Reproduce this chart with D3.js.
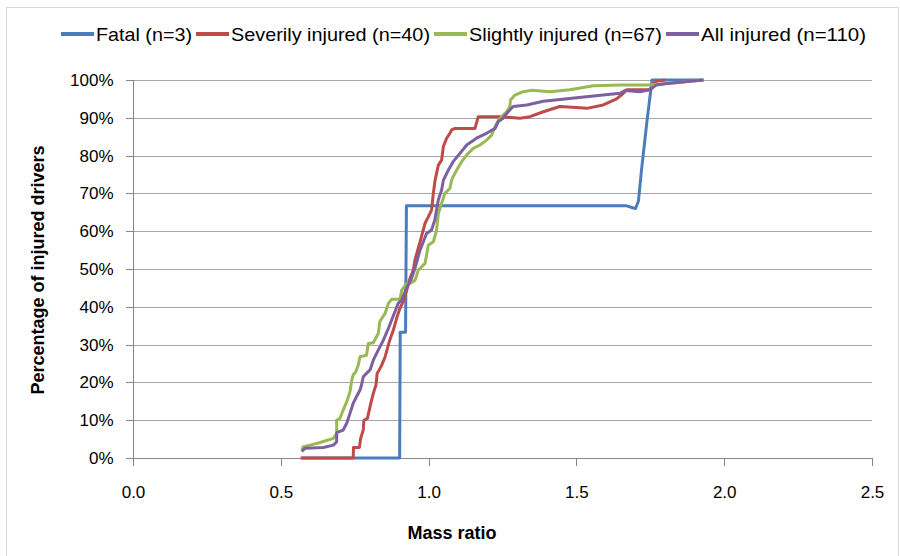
<!DOCTYPE html>
<meta charset='utf-8'>
<style>
	body { margin: 0; background: #fff; }
	svg { display: block; font-family: 'Liberation Sans', 'DejaVu Sans', sans-serif; }
	.grid line { stroke: #a6a6a6; stroke-width: 1px; }
	.axis path, .axis line { stroke: #868686; shape-rendering: crispEdges; }
	.axis text { font-size: 17px; fill: #000; }
	.series { fill: none; stroke-width: 3px; stroke-linejoin: round; }
</style>
<body>
<script src='https://cdn.jsdelivr.net/npm/d3@7/dist/d3.min.js'></script>
<script type='text/javascript'>
	var seriesNames = ['Fatal (n=3)', 'Severily injured (n=40)', 'Slightly injured (n=67)', 'All injured (n=110)'];
	var seriesColors = ['#4a7ebb', '#be4b48', '#98b954', '#7d60a0'];
	var legendWidths = [96, 199, 193, 165];
	var xTicks = [0, 0.5, 1.0, 1.5, 2.0, 2.5];
	var yTicks = [0, 10, 20, 30, 40, 50, 60, 70, 80, 90, 100];

	// [mass ratio, percent]
	var fatal = [[0.57, 0], [0.902, 0], [0.904, 33.3], [0.922, 33.3], [0.925, 66.7], [1.67, 66.7],
		[1.69, 66.2], [1.70, 66.0], [1.71, 68], [1.72, 76], [1.74, 90], [1.756, 100], [1.93, 100]];
	var severe = [[0.567, 0], [0.745, 0], [0.746, 2.8], [0.766, 2.8], [0.770, 5.2], [0.779, 7.4], [0.781, 10],
		[0.793, 10.5], [0.802, 13.6], [0.807, 15.3], [0.813, 17.1], [0.822, 19.3], [0.826, 22.4], [0.833, 23.3],
		[0.841, 24.5], [0.853, 26.8], [0.867, 30.8], [0.881, 33.9], [0.892, 37], [0.903, 39.6], [0.914, 41.4],
		[0.926, 44.4], [0.937, 47.5], [0.948, 49.7], [0.954, 52.4], [0.971, 57.2], [0.988, 62.1], [0.999, 63.8],
		[1.010, 65.6], [1.016, 70], [1.022, 73.5], [1.027, 75.3], [1.033, 77.5], [1.044, 78.8], [1.050, 82.4],
		[1.061, 84.6], [1.072, 85.9], [1.078, 86.8], [1.089, 87.2], [1.157, 87.2], [1.168, 90.3], [1.242, 90.3],
		[1.309, 89.9], [1.343, 90.3], [1.388, 91.6], [1.444, 93], [1.50, 92.7], [1.535, 92.5], [1.591, 93.4],
		[1.636, 95], [1.659, 96.5], [1.670, 97.4], [1.749, 97.5], [1.766, 99.6], [1.80, 100]];
	var slight = [[0.571, 2.1], [0.576, 3], [0.599, 3.4], [0.633, 4.1], [0.678, 5.2], [0.689, 6.5], [0.689, 10],
		[0.700, 10.5], [0.711, 12.7], [0.723, 14.9], [0.734, 17.5], [0.740, 20.6], [0.745, 22], [0.754, 22.8],
		[0.762, 24.6], [0.768, 26.8], [0.790, 27.2], [0.796, 30.3], [0.813, 30.5], [0.830, 33], [0.835, 36.1],
		[0.853, 38.3], [0.864, 40.9], [0.875, 42], [0.903, 42], [0.909, 44.4], [0.926, 46.2], [0.937, 46.2],
		[0.954, 47], [0.965, 49.7], [0.988, 51.5], [0.999, 56.3], [1.016, 57.2], [1.027, 60.3], [1.033, 64.7],
		[1.044, 67.4], [1.055, 70], [1.072, 71.3], [1.078, 73.5], [1.083, 74.4], [1.095, 76.2], [1.112, 78.4],
		[1.129, 80.2], [1.151, 81.9], [1.174, 82.8], [1.196, 84.1], [1.213, 85.4], [1.225, 87.7], [1.236, 89.4],
		[1.247, 90.3], [1.264, 91.6], [1.275, 93], [1.277, 94.7], [1.292, 96], [1.320, 96.9], [1.35, 97.3],
		[1.411, 96.9], [1.478, 97.4], [1.557, 98.5], [1.648, 98.7], [1.738, 98.7], [1.783, 98.9], [1.93, 100]];
	var all = [[0.571, 1.7], [0.582, 2.6], [0.644, 2.8], [0.678, 3.4], [0.689, 4.3], [0.689, 6.7], [0.711, 7.4],
		[0.723, 9.2], [0.734, 11.8], [0.745, 14.5], [0.756, 16.2], [0.768, 18], [0.773, 19.3], [0.779, 21.5],
		[0.790, 22.4], [0.802, 23.3], [0.813, 25.9], [0.830, 28.6], [0.847, 31.2], [0.864, 34.3], [0.875, 36.5],
		[0.886, 38.7], [0.897, 40.9], [0.909, 41.8], [0.920, 44], [0.931, 45.8], [0.942, 47.5], [0.954, 50.2],
		[0.971, 55], [0.993, 59.4], [1.010, 60.3], [1.021, 63], [1.033, 68.3], [1.044, 70.9], [1.050, 73.5],
		[1.067, 76.2], [1.083, 78.4], [1.106, 80.6], [1.129, 82.8], [1.162, 84.6], [1.196, 85.9], [1.225, 87.2],
		[1.236, 89], [1.252, 89.9], [1.269, 91.6], [1.286, 93], [1.332, 93.4], [1.388, 94.4], [1.501, 95.3],
		[1.648, 96.5], [1.664, 97.2], [1.715, 96.9], [1.749, 97.4], [1.771, 98.7], [1.805, 99.1], [1.93, 100]];
	var seriesData = [fatal, severe, slight, all];

	var W = 900, H = 556;
	var svg = d3.select('body').append('svg').attr('width', W).attr('height', H);

	svg.append('rect').attr('x', 6.5).attr('y', 7.5).attr('width', 892).attr('height', 560)
		.attr('fill', 'none').attr('stroke', '#d9d9d9');

	var x = d3.scaleLinear().domain([0, 2.5]).range([133, 872]);
	var y = d3.scaleLinear().domain([0, 100]).range([458, 80]);

	// gridlines
	svg.append('g').attr('class', 'grid').selectAll('line').data(yTicks.slice(1)).enter().append('line')
		.attr('x1', x(0)).attr('x2', x(2.5))
		.attr('y1', function (d) { return Math.round(y(d)) + 0.5; })
		.attr('y2', function (d) { return Math.round(y(d)) + 0.5; });

	var yAxis = svg.append('g').attr('class', 'axis').attr('transform', 'translate(' + (x(0) + 0.5) + ',0)')
		.call(d3.axisLeft(y).tickValues(yTicks).tickSize(8).tickPadding(12)
			.tickFormat(function (d) { return d + '%'; }));
	yAxis.select('.domain').attr('d', 'M0,' + y(100) + 'V' + y(0));

	var xAxis = svg.append('g').attr('class', 'axis').attr('transform', 'translate(0,' + (y(0) + 0.5) + ')')
		.call(d3.axisBottom(x).tickValues(xTicks).tickSize(7).tickPadding(20).tickFormat(d3.format('.1f')));
	xAxis.select('.domain').attr('d', 'M' + x(0) + ',0H' + x(2.5) + 'V7');

	var line = d3.line()
		.x(function (d) { return x(d[0]); })
		.y(function (d) { return y(d[1]); });

	svg.selectAll('path.series').data(seriesData).enter().append('path')
		.attr('class', 'series')
		.attr('stroke', function (d, i) { return seriesColors[i]; })
		.attr('d', line);

	// axis titles
	svg.append('text').attr('x', 452).attr('y', 539).attr('text-anchor', 'middle')
		.attr('font-size', 18).attr('font-weight', 'bold').text('Mass ratio');
	svg.append('text').attr('transform', 'translate(44,270) rotate(-90)').attr('text-anchor', 'middle')
		.attr('font-size', 18).attr('font-weight', 'bold').text('Percentage of injured drivers');

	// legend
	var legend = svg.append('g');
	var lx = 61;
	seriesNames.forEach(function (name, i) {
		legend.append('line').attr('x1', lx).attr('x2', lx + 33).attr('y1', 34).attr('y2', 34)
			.attr('stroke', seriesColors[i]).attr('stroke-width', 4);
		legend.append('text').attr('x', lx + 35).attr('y', 41).attr('font-size', 19)
			.attr('textLength', legendWidths[i]).attr('lengthAdjust', 'spacingAndGlyphs').text(name);
		lx += 35 + legendWidths[i] + 4;
	});
</script>
